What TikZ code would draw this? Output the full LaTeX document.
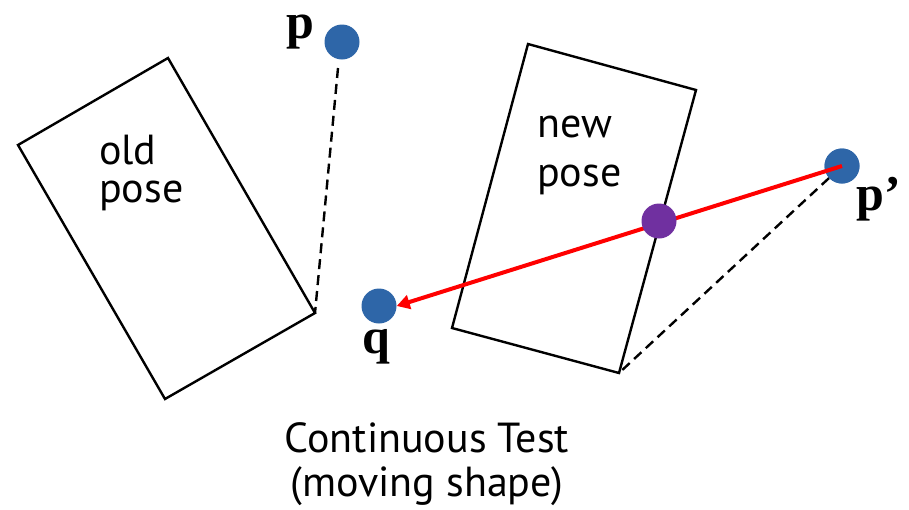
\documentclass[tikz,border=0pt]{standalone}
\usepackage{fontspec}
\setmainfont{Liberation Serif}
\setsansfont{PT Sans}
\usetikzlibrary{arrows.meta}
\definecolor{dotblue}{RGB}{46,102,168}
\definecolor{dotpurple}{RGB}{112,48,160}
\tikzset{
  pose/.style={draw=black, line width=2.4pt, line join=miter},
  dot/.style={circle, fill=#1, minimum size=35pt, inner sep=0pt},
  dashline/.style={draw=black, line width=2.4pt, dash pattern=on 10pt off 6pt},
  lbl/.style={font=\fontsize{50}{50}\selectfont\bfseries, inner sep=0pt},
  txt/.style={font=\sffamily\fontsize{42}{#1}\selectfont, inner sep=0pt},
}
\begin{document}
\begin{tikzpicture}[x=1pt,y=-1pt]
\useasboundingbox (0,0) rectangle (909,509);
% old pose
\coordinate (oT) at (168,58);
\coordinate (oL) at (18,145);
\coordinate (oB) at (165,399);
\coordinate (oR) at (315,313);
\draw[pose] (oT) -- (oL) -- (oB) -- (oR) -- cycle;
% new pose
\coordinate (nTL) at (528,44);
\coordinate (nTR) at (696,90);
\coordinate (nBR) at (619,373);
\coordinate (nBL) at (452,328);
\draw[pose] (nTL) -- (nTR) -- (nBR) -- (nBL) -- cycle;
% texts
\node[txt=38, align=left, anchor=north west] (old) at (99,135) {old\\pose};
\node[txt=49, align=left, anchor=north west] (new) at (537,116) {new\\pose};
\node[txt=44, align=center, anchor=north] (cap) at (427,422) {Continuous Test\\(moving shape)};
% dots
\node[dot=dotblue] (p) at (342,42) {};
\node[dot=dotblue] (q) at (379,306) {};
\node[dot=dotblue] (pp) at (842,166) {};
\node[lbl, anchor=base] (pl) at (300,38) {p};
\node[lbl, anchor=base] (ql) at (376,353) {q};
\node[lbl, anchor=base west] (ppl) at (856,210) {p’};
% dashed lines
\coordinate (ps) at (338,68);
\draw[dashline] (ps) -- (oR);
\draw[dashline] (pp) -- (nBR);
\node[dot=dotblue] at (pp) {};
% red ray
\draw[red, line width=4pt, -{Triangle[length=13pt,width=14pt]}] (pp.center) -- (q.east);
\node[dot=dotpurple] (hit) at (659,221) {};
\end{tikzpicture}
\end{document}
